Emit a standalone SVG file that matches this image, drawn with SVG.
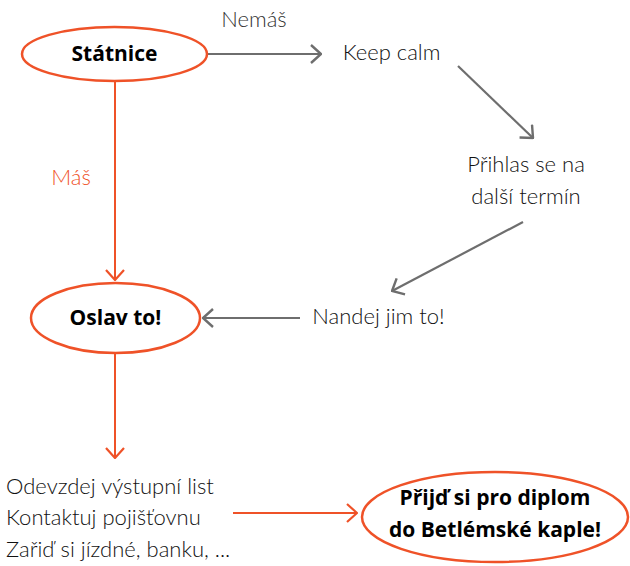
<svg xmlns="http://www.w3.org/2000/svg" width="630" height="566" viewBox="0 0 630 566">
<style>
.lt{font-family:Lato,"Open Sans","Liberation Sans",sans-serif;font-weight:300;font-size:22px;fill:#111}
.bd{font-family:"Open Sans",Lato,"Liberation Sans",sans-serif;font-weight:700;font-size:21px;fill:#000}
.ell{fill:#fff;stroke:#ef5228;stroke-width:2.5}
.go{fill:none;stroke:#ef5228;stroke-width:2}
.gg{fill:none;stroke:#6e6e6e;stroke-width:2.2}
</style>
<defs>
<marker id="ao" viewBox="0 0 12 20" markerWidth="12" markerHeight="20" refX="11" refY="10" orient="auto" markerUnits="userSpaceOnUse">
<path d="M1,1 L11,10 L1,19" fill="none" stroke="#ef5228" stroke-width="2.2"/>
</marker>
<marker id="ag" viewBox="0 0 12 20" markerWidth="12" markerHeight="20" refX="11" refY="10" orient="auto" markerUnits="userSpaceOnUse">
<path d="M1,1 L11,10 L1,19" fill="none" stroke="#6e6e6e" stroke-width="2.4"/>
</marker>
</defs>
<g id="connectors">
<line class="gg" x1="207" y1="54" x2="321" y2="54" marker-end="url(#ag)"/>
<line class="gg" x1="458" y1="66" x2="533" y2="138" marker-end="url(#ag)"/>
<line class="gg" x1="523" y1="222" x2="392" y2="291" marker-end="url(#ag)"/>
<line class="gg" x1="300" y1="318" x2="203" y2="318" marker-end="url(#ag)"/>
<line class="go" x1="115" y1="81" x2="115" y2="280" marker-end="url(#ao)"/>
<line class="go" x1="115" y1="353" x2="115" y2="458" marker-end="url(#ao)"/>
<line class="go" x1="233" y1="513" x2="357" y2="513" marker-end="url(#ao)"/>
<text class="lt" x="254" y="27" text-anchor="middle" style="fill:#333">Nemáš</text>
<text class="lt" x="71" y="185" text-anchor="middle" style="fill:#ef5228">Máš</text>
</g>
<g id="statnice">
<ellipse class="ell" cx="114.5" cy="54" rx="92.5" ry="27"/>
<text class="bd" x="114.5" y="61" text-anchor="middle">Státnice</text>
</g>
<g id="keepcalm">
<text class="lt" x="391.5" y="60" text-anchor="middle">Keep calm</text>
</g>
<g id="prihlas">
<text class="lt" x="526" y="172" text-anchor="middle">Přihlas se na</text>
<text class="lt" x="526" y="204" text-anchor="middle">další termín</text>
</g>
<g id="nandej">
<text class="lt" x="378.5" y="324" text-anchor="middle">Nandej jim to!</text>
</g>
<g id="oslav">
<ellipse class="ell" cx="115.5" cy="318" rx="84.5" ry="35"/>
<text class="bd" x="115.5" y="325" text-anchor="middle">Oslav to!</text>
</g>
<g id="ukoly">
<text class="lt" x="6" y="494">Odevzdej výstupní list</text>
<text class="lt" x="6" y="525">Kontaktuj pojišťovnu</text>
<text class="lt" x="6" y="557">Zařiď si jízdné, banku, ...</text>
</g>
<g id="diplom">
<ellipse class="ell" cx="495" cy="517" rx="133" ry="45"/>
<text class="bd" x="495" y="505" text-anchor="middle">Přijď si pro diplom</text>
<text class="bd" x="495" y="537" text-anchor="middle">do Betlémské kaple!</text>
</g>
</svg>
